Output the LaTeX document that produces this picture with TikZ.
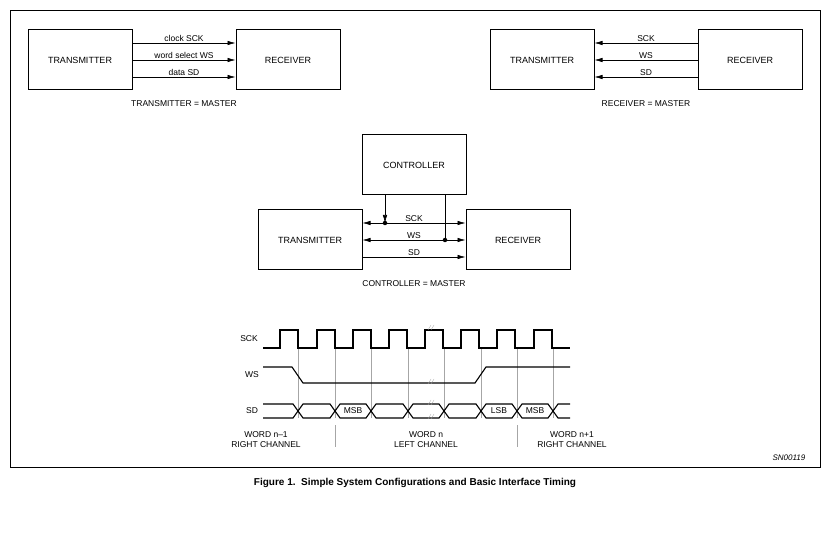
\documentclass[tikz,border=0pt]{standalone}
\usepackage{fontspec}
\setmainfont{Liberation Sans}
\usetikzlibrary{arrows.meta}
\begin{document}
\begin{tikzpicture}[x=1pt,y=-1pt,
 box/.style={draw,line width=1pt,minimum width=104pt,minimum height=60pt,font=\fontsize{9}{10}\selectfont},
 sig/.style={line width=0.6pt,-{Latex[length=8pt,width=4.5pt]}},
 lab/.style={font=\fontsize{8.5}{10}\selectfont,inner sep=1pt},
 wav/.style={line width=1.1pt},
 grid/.style={gray!70,line width=0.3pt},
 dot/.style={circle,fill,inner sep=0pt,minimum size=4.5pt}]
\useasboundingbox (0,0) rectangle (830,537);
\draw[line width=0.9pt] (10,10) rectangle (820,467);
% top-left
\node[box] (t1) at (80,60) {TRANSMITTER};
\node[box] (r1) at (288,60) {RECEIVER};
\foreach \y/\t in {43/clock SCK,60/word select WS,77/data SD}{
 \draw[sig] (t1.east|-0,\y) -- node[lab,above]{\t} (r1.west|-0,\y);}
\node[lab] (m1) at (184,104) {TRANSMITTER = MASTER};
% top-right
\node[box] (t2) at (542,60) {TRANSMITTER};
\node[box] (r2) at (750,60) {RECEIVER};
\foreach \y/\t in {43/SCK,60/WS,77/SD}{
 \draw[sig] (r2.west|-0,\y) -- node[lab,above]{\t} (t2.east|-0,\y);}
\node[lab] (m2) at (646,104) {RECEIVER = MASTER};
% middle
\node[box] (c) at (414,165) {CONTROLLER};
\node[box] (t3) at (310,240) {TRANSMITTER};
\node[box] (r3) at (518,240) {RECEIVER};
\coordinate (d1) at (385,223); \coordinate (d2) at (445,240);
\draw[sig,{Latex[length=8pt,width=4.5pt]}-{Latex[length=8pt,width=4.5pt]}] (t3.east|-d1) -- node[lab,above]{SCK} (r3.west|-d1);
\draw[sig,{Latex[length=8pt,width=4.5pt]}-{Latex[length=8pt,width=4.5pt]}] (t3.east|-d2) -- node[lab,above]{WS} (r3.west|-d2);
\draw[sig] (t3.east|-0,257) -- node[lab,above]{SD} (r3.west|-0,257);
\draw[sig] (c.south-|d1) -- (d1);
\draw[line width=0.6pt] (c.south-|d2) -- (d2);
\node[dot] at (d1) {}; \node[dot] at (d2) {};
\node[lab] (m3) at (414,284) {CONTROLLER = MASTER};
% timing
\node[lab] at (249,339) {SCK};
\node[lab] at (252,375) {WS};
\node[lab] at (252,411) {SD};
\foreach \x in {298,335,371,408,444,481,517,553}{\draw[grid] (\x,348) -- (\x,418);}
\draw[grid] (335,425) -- (335,447); \draw[grid] (517,425) -- (517,447);
\draw[wav] (263,348) -- (280,348)
 \foreach \r in {280,317,353,389,425,461,497,534}{ -- (\r,348) -- (\r,330) -- (\r+18,330) -- (\r+18,348)} -- (570,348);
\draw[wav] (263,367) -- (292,367) -- (303,383) -- (475,383) -- (486,367) -- (570,367);
\draw[wav] (263,404) -- (293,404) -- (303,418) -- (330,418) -- (340,404) -- (366,404) -- (376,418) -- (403,418) -- (413,404) -- (439,404) -- (449,418) -- (476,418) -- (486,404) -- (512,404) -- (522,418) -- (548,418) -- (558,404) -- (570,404);
\draw[wav] (263,418) -- (293,418) -- (303,404) -- (330,404) -- (340,418) -- (366,418) -- (376,404) -- (403,404) -- (413,418) -- (439,418) -- (449,404) -- (476,404) -- (486,418) -- (512,418) -- (522,404) -- (548,404) -- (558,418) -- (570,418);
\foreach \y in {328,382,403,417}{\draw[grid] (428,\y+2) -- (431,\y-3) (431,\y+2) -- (434,\y-3);}
\node[lab] at (353,411) {MSB};
\node[lab] at (499,411) {LSB};
\node[lab] at (535,411) {MSB};
\node[lab,align=center] at (266,440) {WORD n--1\\RIGHT CHANNEL};
\node[lab,align=center] at (426,440) {WORD n\\LEFT CHANNEL};
\node[lab,align=center] at (572,440) {WORD n+1\\RIGHT CHANNEL};
\node[lab,font=\fontsize{8}{9}\selectfont\itshape] at (789,458) {SN00119};
\node[font=\fontsize{10}{12}\selectfont\bfseries] at (415,483) {Figure 1.\ \ Simple System Configurations and Basic Interface Timing};
\end{tikzpicture}
\end{document}
